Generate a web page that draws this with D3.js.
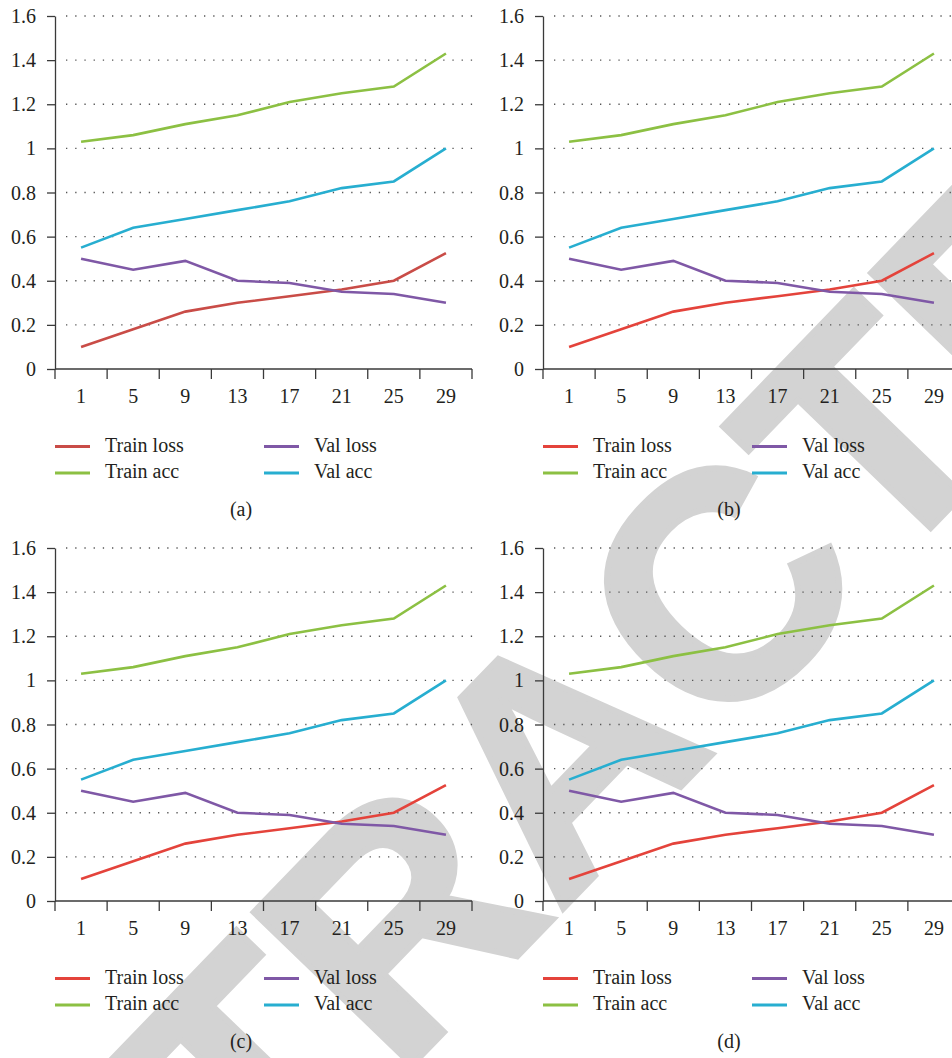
<!DOCTYPE html>
<html>
<head>
<meta charset="utf-8">
<script src="https://cdn.jsdelivr.net/npm/d3@7"></script>
<style>
  body { margin: 0; background: #fff; }
  text { font-family: "Liberation Serif", serif; fill: #231f20; }
</style>
</head>
<body>
<script>
var w = 952;
var h = 1058;

// values (all four panels show the same curves)
var epochs = ["1", "5", "9", "13", "17", "21", "25", "29"];
var trainLoss = [0.10, 0.18, 0.26, 0.30, 0.33, 0.36, 0.40, 0.525];
var valLoss = [0.50, 0.45, 0.49, 0.40, 0.39, 0.35, 0.34, 0.30];
var trainAcc = [1.03, 1.06, 1.11, 1.15, 1.21, 1.25, 1.28, 1.43];
var valAcc = [0.55, 0.64, 0.68, 0.72, 0.76, 0.82, 0.85, 1.00];
var yTicks = [0, 0.2, 0.4, 0.6, 0.8, 1, 1.2, 1.4, 1.6];
var panelLabels = ["(a)", "(b)", "(c)", "(d)"];
var seriesNames = ["Train loss", "Val loss", "Train acc", "Val acc"];

var panelPos = [[0, 0], [488, 0], [0, 532], [488, 532]];
// red is a bit duller in panel (a)
var redByPanel = ["#c94c47", "#e4433b", "#e4433b", "#e4433b"];
var green = "#8cc043", purple = "#7f58a6", blue = "#27aed0";

var svg = d3.select("body")
  .append("svg")
  .attr("width", w)
  .attr("height", h);

// watermark goes underneath everything
var wm = svg.append("g")
  .attr("transform", "translate(556,752) rotate(-46)");
wm.append("text")
  .text("RETRACTED")
  .attr("x", 0)
  .attr("y", 114)
  .attr("text-anchor", "middle")
  .style("font-family", "'Liberation Sans', Arial, sans-serif")
  .style("font-weight", "bold")
  .style("font-size", "320px")
  .style("fill", "#d3d3d3")
  .style("stroke", "#d3d3d3")
  .style("stroke-width", 6)
  .style("stroke-linejoin", "miter");

var x = d3.scaleBand().domain(epochs).range([55, 472]);
var y = d3.scaleLinear().domain([0, 1.6]).range([369, 16]);

var line = d3.line()
  .x(function (d, i) { return x(epochs[i]) + x.bandwidth() / 2; })
  .y(function (d) { return y(d); });

panelPos.forEach(function (p, k) {
  var g = svg.append("g")
    .attr("transform", "translate(" + p[0] + "," + p[1] + ")");

  // dotted gridlines
  g.selectAll(".grid")
    .data(yTicks.filter(function (d) { return d > 0; }))
    .enter()
    .append("line")
    .attr("x1", 66)
    .attr("x2", 474)
    .attr("y1", function (d) { return y(d); })
    .attr("y2", function (d) { return y(d); })
    .attr("stroke", "#555")
    .attr("stroke-width", 1.3)
    .attr("stroke-dasharray", "1.3,7.9");

  // y axis
  var yAxis = g.append("g")
    .attr("transform", "translate(55,0)")
    .call(d3.axisLeft(y).tickValues(yTicks).tickSize(8).tickSizeOuter(0).tickPadding(11)
      .tickFormat(function (d) { return d3.format("~g")(d); }));
  yAxis.selectAll("text").style("font-size", "20px").attr("dy", "0.33em");

  // x axis: ticks on band edges, labels on band centres
  var xAxis = g.append("g")
    .attr("transform", "translate(0,369)")
    .call(d3.axisBottom(x).tickSize(0).tickSizeOuter(0).tickPadding(20));
  xAxis.selectAll("text").style("font-size", "20px");
  xAxis.select(".domain").remove();
  xAxis.append("line")
    .attr("x1", x.range()[0])
    .attr("x2", x.range()[1])
    .attr("stroke", "#3a3a3a")
    .attr("stroke-width", 1.3);
  xAxis.selectAll(".edge")
    .data(d3.range(epochs.length + 1))
    .enter()
    .append("line")
    .attr("x1", function (i) { return x.range()[0] + i * x.step(); })
    .attr("x2", function (i) { return x.range()[0] + i * x.step(); })
    .attr("y1", 0)
    .attr("y2", 10)
    .attr("stroke", "#3a3a3a")
    .attr("stroke-width", 1.3);

  g.selectAll(".domain, .tick line").attr("stroke", "#3a3a3a").attr("stroke-width", 1.3);

  var series = [
    { name: seriesNames[0], values: trainLoss, color: redByPanel[k] },
    { name: seriesNames[1], values: valLoss, color: purple },
    { name: seriesNames[2], values: trainAcc, color: green },
    { name: seriesNames[3], values: valAcc, color: blue }
  ];

  g.selectAll(".series")
    .data(series)
    .enter()
    .append("path")
    .attr("d", function (d) { return line(d.values); })
    .attr("fill", "none")
    .attr("stroke", function (d) { return d.color; })
    .attr("stroke-width", 2.6);

  // legend, two columns
  var leg = g.selectAll(".leg")
    .data(series)
    .enter()
    .append("g")
    .attr("transform", function (d, i) {
      return "translate(" + (i % 2 ? 264 : 55) + "," + (i < 2 ? 446.5 : 473) + ")";
    });
  leg.append("line")
    .attr("x1", 0)
    .attr("x2", 35)
    .attr("stroke", function (d) { return d.color; })
    .attr("stroke-width", 3);
  leg.append("text")
    .text(function (d) { return d.name; })
    .attr("x", 50)
    .attr("y", 5)
    .style("font-size", "20px");

  g.append("text")
    .text(panelLabels[k])
    .attr("x", 241)
    .attr("y", 516)
    .attr("text-anchor", "middle")
    .style("font-size", "20px");
});
</script>
</body>
</html>
